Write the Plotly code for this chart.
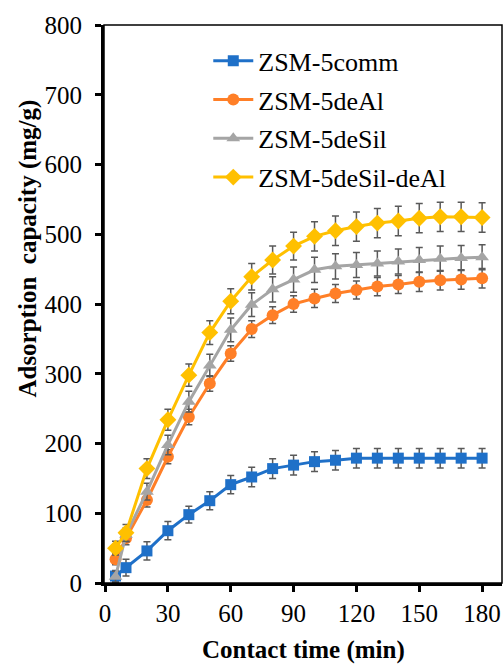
import plotly.graph_objects as go

time_min = [5, 10, 20, 30, 40, 50, 60, 70, 80, 90, 100, 110, 120, 130, 140, 150, 160, 170, 180]

comm = [10, 22, 46, 75, 98, 118, 141, 152, 164, 169, 174, 176, 179, 179, 179, 179, 179, 179, 179]
comm_err = [8, 12, 13, 13, 12, 13, 13, 14, 14, 14, 14, 14, 14, 14, 14, 14, 14, 14, 14]

deal = [34, 64, 119, 181, 238, 286, 329, 364, 384, 400, 408, 415, 420, 425, 428, 432, 434, 435, 437]
deal_err = [8, 9, 10, 10, 11, 11, 11, 12, 12, 12, 13, 13, 13, 13, 13, 14, 14, 14, 14]

desil = [9, 69, 131, 198, 260, 312, 363, 399, 421, 435, 449, 454, 456, 458, 461, 463, 465, 466, 467]
desil_err = [8, 10, 12, 14, 15, 16, 17, 17, 18, 18, 18, 18, 18, 18, 18, 18, 18, 18, 18]

desil_deal = [50, 72, 164, 234, 298, 359, 404, 439, 463, 483, 497, 505, 511, 516, 519, 523, 525, 525, 524]
desil_deal_err = [10, 12, 14, 15, 16, 17, 18, 19, 20, 20, 21, 21, 21, 21, 21, 21, 21, 21, 21]

names = ["ZSM-5comm", "ZSM-5deAl", "ZSM-5deSil", "ZSM-5deSil-deAl"]
colors = ["#1f70c8", "#ff7f27", "#a5a5a5", "#ffc000"]
symbols = ["square", "circle", "triangle-up", "diamond"]
sizes = [11, 12, 12, 13]
series = [comm, deal, desil, desil_deal]
errs = [comm_err, deal_err, desil_err, desil_deal_err]

FONT = "Liberation Serif"

fig = go.Figure()
for name, ys, es, c, s, sz in zip(names, series, errs, colors, symbols, sizes):
    fig.add_trace(go.Scatter(
        x=time_min, y=ys, name=name, mode="lines+markers", legendgroup=name,
        line=dict(color=c, width=3),
        marker=dict(color=c, symbol=s, size=sz),
        error_y=dict(type="data", array=es, visible=True, color="#595959",
                     thickness=1.5, width=3.5),
    ))

fig.update_layout(
    width=504, height=664,
    margin=dict(l=104, r=2, t=25, b=81),
    paper_bgcolor="white", plot_bgcolor="white",
    font=dict(family=FONT, size=25, color="black"),
    showlegend=True,
    legend=dict(x=0.262, y=0.978, xanchor="left", yanchor="top",
                bgcolor="rgba(0,0,0,0)", font=dict(family=FONT, size=26),
                itemwidth=40, tracegroupgap=2),
)
fig.update_xaxes(
    range=[-0.5, 189.5], tickvals=[0, 30, 60, 90, 120, 150, 180], automargin=False,
    showgrid=False, zeroline=False, showline=True, linecolor="black", linewidth=3,
    ticks="outside", ticklen=6, tickwidth=2.5, tickcolor="black",
    tickfont=dict(family=FONT, size=25),
)
fig.update_yaxes(
    range=[0, 800], tickvals=[0, 100, 200, 300, 400, 500, 600, 700, 800], automargin=False,
    showgrid=False, zeroline=False, showline=True, linecolor="black", linewidth=3,
    ticks="outside", ticklen=6, tickwidth=2.5, tickcolor="black",
    tickfont=dict(family=FONT, size=25), ticklabelstandoff=8,
)
fig.add_shape(type="rect", xref="paper", yref="paper", x0=0, y0=0, x1=1, y1=1,
              line=dict(color="black", width=1.5), layer="above")
fig.add_annotation(text="<b>Adsorption  capacity (mg/g)</b>", xref="paper", yref="paper",
                   x=-0.19, y=0.6, textangle=-90, showarrow=False,
                   xanchor="center", yanchor="middle",
                   font=dict(family=FONT, size=25, color="black"))
fig.add_annotation(text="<b>Contact time (min)</b>", xref="paper", yref="paper",
                   x=0.5, y=-0.12, showarrow=False,
                   xanchor="center", yanchor="middle",
                   font=dict(family=FONT, size=25, color="black"))

fig.write_html("out.html", config={"displayModeBar": False},
               post_script="document.body.style.margin='0';")
